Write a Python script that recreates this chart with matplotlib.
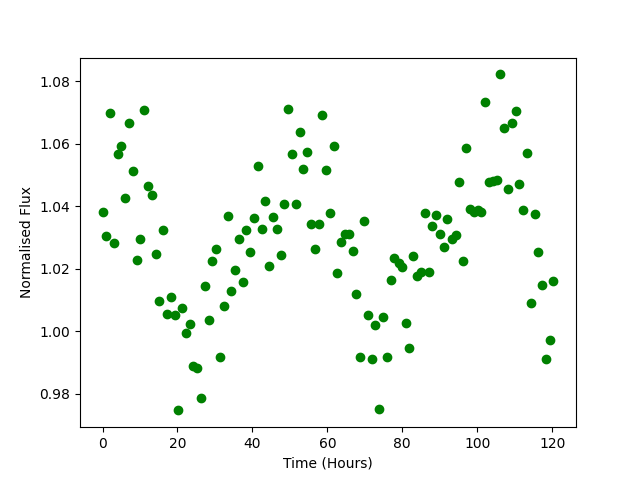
import numpy as np
import matplotlib
matplotlib.use('Agg')
import matplotlib.pyplot as plt

# Observation times (hours)
time = [0.0, 0.88, 1.95, 2.94, 4.09, 4.89, 5.96, 7.03, 8.10, 9.17,
        9.97, 11.04, 12.11, 13.18, 14.24, 15.05, 16.11, 17.18, 18.25, 19.43,
        20.04, 21.19, 22.26, 23.33, 24.13, 25.20, 26.27, 27.34, 28.41, 29.21,
        30.28, 31.35, 32.42, 33.49, 34.29, 35.28, 36.42, 37.49, 38.40, 39.36,
        40.43, 41.50, 42.57, 43.37, 44.44, 45.51, 46.58, 47.65, 48.45, 49.52,
        50.59, 51.66, 52.73, 53.53, 54.60, 55.59, 56.74, 57.80, 58.61, 59.68,
        60.66, 61.81, 62.61, 63.68, 64.75, 65.82, 66.89, 67.69, 68.76, 69.83,
        70.90, 71.97, 72.77, 73.84, 74.91, 75.98, 77.05, 77.85, 79.02, 80.04,
        81.06, 81.86, 82.93, 83.99, 85.06, 86.13, 87.04, 88.00, 89.07, 90.14,
        91.21, 92.01, 93.19, 94.26, 95.22, 96.29, 97.09, 98.16, 99.23, 100.30,
        101.10, 102.17, 103.24, 104.30, 105.37, 106.17, 107.24, 108.31, 109.38, 110.45,
        111.25, 112.32, 113.39, 114.46, 115.53, 116.33, 117.40, 118.47, 119.54, 120.34]

# Normalised flux
flux = [1.0380, 1.0304, 1.0698, 1.0281, 1.0566, 1.0592, 1.0425, 1.0665, 1.0512, 1.0228,
        1.0294, 1.0707, 1.0464, 1.0435, 1.0246, 1.0095, 1.0323, 1.0054, 1.0108, 1.0050,
        0.9746, 1.0073, 0.9993, 1.0022, 0.9888, 0.9881, 0.9785, 1.0143, 1.0034, 1.0224,
        1.0262, 0.9916, 1.0079, 1.0368, 1.0127, 1.0195, 1.0296, 1.0156, 1.0323, 1.0252,
        1.0361, 1.0528, 1.0326, 1.0416, 1.0207, 1.0364, 1.0326, 1.0243, 1.0406, 1.0710,
        1.0566, 1.0406, 1.0637, 1.0518, 1.0573, 1.0342, 1.0262, 1.0342, 1.0691, 1.0515,
        1.0377, 1.0592, 1.0185, 1.0284, 1.0312, 1.0312, 1.0255, 1.0118, 0.9916, 1.0352,
        1.0050, 0.9910, 1.0018, 0.9749, 1.0044, 0.9916, 1.0163, 1.0235, 1.0217, 1.0204,
        1.0026, 0.9945, 1.0239, 1.0175, 1.0188, 1.0377, 1.0188, 1.0336, 1.0371, 1.0310,
        1.0268, 1.0358, 1.0294, 1.0307, 1.0476, 1.0226, 1.0585, 1.0390, 1.0382, 1.0387,
        1.0380, 1.0733, 1.0476, 1.0480, 1.0484, 1.0822, 1.0649, 1.0454, 1.0665, 1.0704,
        1.0470, 1.0387, 1.0569, 1.0089, 1.0374, 1.0252, 1.0147, 0.9910, 0.9970, 1.0159]

plt.figure(figsize=(6.4, 4.8), dpi=100)
plt.plot(time, flux, 'go')
plt.xlabel('Time (Hours)')
plt.ylabel('Normalised Flux')
plt.savefig('out.png')
